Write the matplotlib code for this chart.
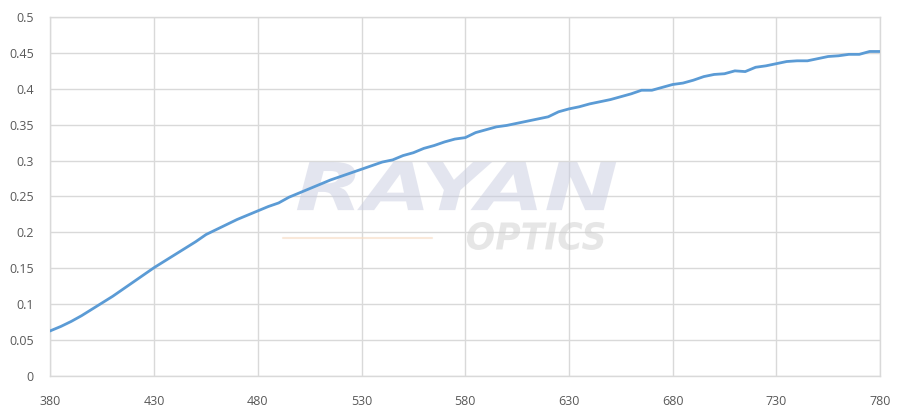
import numpy as np
import matplotlib.pyplot as plt
from matplotlib.textpath import TextPath
from matplotlib.patches import PathPatch
from matplotlib.font_manager import FontProperties
from matplotlib.transforms import Affine2D

wavelength = list(range(380, 785, 5))
response = [0.063, 0.069, 0.076, 0.084, 0.093, 0.102, 0.111, 0.121, 0.131, 0.141,
            0.151, 0.160, 0.169, 0.178, 0.187, 0.197, 0.204, 0.211, 0.218, 0.224,
            0.230, 0.236, 0.241, 0.249, 0.255, 0.261, 0.267, 0.273, 0.278, 0.283,
            0.288, 0.293, 0.298, 0.301, 0.307, 0.311, 0.317, 0.321, 0.326, 0.330,
            0.332, 0.339, 0.343, 0.347, 0.349, 0.352, 0.355, 0.358, 0.361, 0.368,
            0.372, 0.375, 0.379, 0.382, 0.385, 0.389, 0.393, 0.398, 0.398, 0.402,
            0.406, 0.408, 0.412, 0.417, 0.420, 0.421, 0.425, 0.424, 0.430, 0.432,
            0.435, 0.438, 0.439, 0.439, 0.442, 0.445, 0.446, 0.448, 0.448, 0.452,
            0.452]
x_ticks = [380, 430, 480, 530, 580, 630, 680, 730, 780]
y_ticks = [0, 0.05, 0.1, 0.15, 0.2, 0.25, 0.3, 0.35, 0.4, 0.45, 0.5]
y_labels = ['0', '0.05', '0.1', '0.15', '0.2', '0.25', '0.3', '0.35', '0.4', '0.45', '0.5']

plt.rcParams['font.family'] = ['Open Sans', 'DejaVu Sans']

fig = plt.figure(figsize=(9, 4.11), dpi=100)
ax = fig.add_axes([0.0561, 0.0852, 0.9217, 0.8734])

# grid
ax.set_axisbelow(True)
ax.grid(True, color='#d9d9d9', linewidth=1.0)
for s in ax.spines.values():
    s.set_color('#d9d9d9')
    s.set_linewidth(1.0)


def watermark(text, box, color):
    # stretch the text outline to fill a box given in axes fractions
    fp = FontProperties(family='DejaVu Sans', weight='bold', style='italic')
    tp = TextPath((0, 0), text, size=10, prop=fp)
    ext = tp.get_extents()
    x0, y0, x1, y1 = box
    tr = (Affine2D().translate(-ext.x0, -ext.y0)
          .scale((x1 - x0) / ext.width, (y1 - y0) / ext.height)
          .translate(x0, y0))
    patch = PathPatch(tr.transform_path(tp), facecolor=color, edgecolor='none',
                      alpha=0.5, transform=ax.transAxes, zorder=1)
    ax.add_patch(patch)


# watermark (boxes in axes fraction)
watermark('RAYAN', (0.297, 0.462, 0.682, 0.596), '#c9cde0')
watermark('OPTICS', (0.502, 0.351, 0.668, 0.429), '#cfcfcf')
ax.plot([0.28, 0.46], [0.385, 0.385], transform=ax.transAxes, color='#f6d9c0',
        linewidth=1.5, alpha=0.6, zorder=1, solid_capstyle='round')

ax.plot(wavelength, response, color='#5b9bd5', linewidth=2.0, zorder=3)

ax.set_xlim(380, 780)
ax.set_ylim(0, 0.5)
ax.set_xticks(x_ticks)
ax.set_yticks(y_ticks)
ax.set_yticklabels(y_labels)
ax.tick_params(length=0, labelsize=9, labelcolor='#595959')
ax.tick_params(axis='x', pad=14)
ax.tick_params(axis='y', pad=12)

fig.savefig('out.png', dpi=100)
